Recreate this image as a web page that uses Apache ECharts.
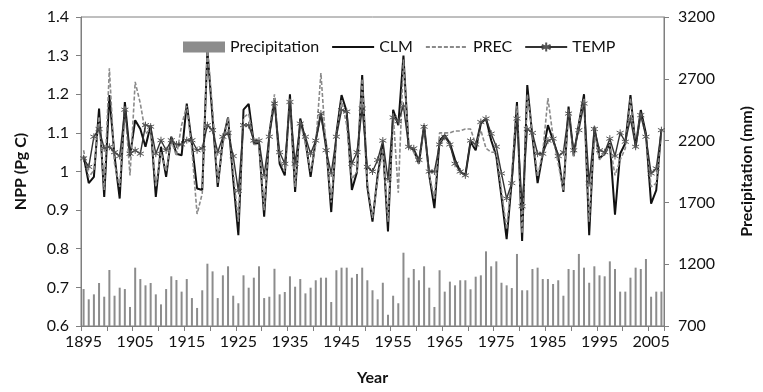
<!DOCTYPE html>
<html>
<head>
<meta charset="utf-8">
<script src="https://cdn.jsdelivr.net/npm/echarts@6/dist/echarts.min.js"></script>
<style>
html,body{margin:0;padding:0;background:#fff;}
#chart{width:763px;height:392px;}
</style>
</head>
<body>
<div id="chart"></div>
<script>
// Years 1895-2007
var years = [];
for (var y = 1895; y <= 2007; y++) years.push(String(y));

// Annual precipitation (mm), right axis
var precipitation = [
  999, 916, 956, 1048, 937, 1153, 945, 1010, 999, 854,
  1172, 1080, 1029, 1048, 956, 875, 999, 1102, 1072, 978,
  1080, 926, 846, 989, 1204, 1142, 926, 1110, 1183, 945,
  884, 1110, 1010, 1091, 1183, 926, 937, 1163, 956, 975,
  1102, 1018, 1080, 964, 1010, 1070, 1091, 1091, 894, 1151,
  1172, 1172, 1091, 1121, 1172, 1070, 989, 916, 1050, 791,
  945, 884, 1293, 1091, 1161, 1070, 1183, 1010, 854, 1151,
  978, 1059, 1029, 1070, 1070, 997, 1099, 1110, 1304, 1183,
  1223, 1050, 1029, 1007, 1283, 989, 989, 1161, 1172, 1080,
  1080, 1040, 1070, 945, 1161, 1153, 1283, 1172, 1050, 1183,
  1110, 1102, 1223, 1161, 978, 978, 1091, 1172, 1161, 1242,
  937, 978, 978
];

// NPP (Pg C), left axis
var clm = [
  1.04, 0.97, 0.986, 1.163, 0.934, 1.198, 1.04, 0.93, 1.18, 1.04,
  1.133, 1.11, 1.064, 1.12, 0.934, 1.064, 0.986, 1.09, 1.046, 1.042,
  1.176, 1.07, 0.956, 0.952, 1.314, 1.14, 0.96, 1.081, 1.14, 0.98,
  0.835, 1.16, 1.175, 1.073, 1.073, 0.883, 1.098, 1.19, 1.02, 0.99,
  1.2, 0.947, 1.137, 1.081, 0.986, 1.081, 1.15, 1.073, 0.895, 1.098,
  1.198, 1.155, 0.952, 0.999, 1.25, 0.96, 0.87, 0.99, 1.07, 0.845,
  1.16, 1.12, 1.30, 1.064, 1.055, 1.02, 1.12, 0.99, 0.905, 1.081,
  1.094, 1.073, 1.03, 1.0, 0.99, 1.077, 1.055, 1.124, 1.137, 1.081,
  1.04, 0.934, 0.825, 0.977, 1.18, 0.82, 1.224, 1.09, 0.97, 1.046,
  1.12, 1.081, 1.04, 0.947, 1.168, 1.04, 1.124, 1.2, 0.835, 1.116,
  1.034, 1.046, 1.073, 0.888, 1.046, 1.073, 1.198, 1.064, 1.159, 1.098,
  0.917, 0.952, 1.11
];

var prec = [
  1.055, 0.986, 1.003, 1.142, 0.952, 1.267, 1.02, 0.96, 1.17, 0.99,
  1.232, 1.176, 1.098, 1.11, 0.96, 1.05, 1.0, 1.08, 1.04, 1.12,
  1.17, 1.055, 0.89, 0.943, 1.32, 1.16, 0.97, 1.07, 1.14, 1.0,
  0.87, 1.14, 1.15, 1.07, 1.07, 0.9, 1.1, 1.2, 1.03, 1.0,
  1.19, 0.96, 1.13, 1.07, 1.0, 1.07, 1.255, 1.06, 0.92, 1.09,
  1.185, 1.12, 0.98, 1.0, 1.24, 0.97, 0.88, 0.98, 1.06, 0.87,
  1.15, 0.945, 1.29, 1.07, 1.05, 1.02, 1.12, 0.99, 0.93, 1.10,
  1.10, 1.10, 1.105, 1.105, 1.11, 1.11, 1.07, 1.107, 1.06, 1.05,
  1.05, 0.95, 0.85, 0.99, 1.17, 0.84, 1.2, 1.1, 0.986, 1.05,
  1.19, 1.09, 1.02, 0.95, 1.16, 1.04, 1.12, 1.19, 0.87, 1.11,
  1.03, 1.05, 1.07, 0.99, 1.03, 1.06, 1.19, 1.06, 1.15, 1.09,
  0.96, 0.97, 1.11
];

var temp = [
  1.034, 1.012, 1.09, 1.11, 1.06, 1.064, 1.05, 1.04, 1.16, 1.046,
  1.055, 1.046, 1.12, 1.116, 1.046, 1.081, 1.055, 1.081, 1.07, 1.07,
  1.081, 1.081, 1.055, 1.06, 1.12, 1.107, 1.05, 1.09, 1.1, 1.04,
  0.95, 1.12, 1.12, 1.08, 1.08, 0.99, 1.09, 1.176, 1.05, 1.02,
  1.18, 1.02, 1.124, 1.09, 1.046, 1.08, 1.15, 1.055, 0.995, 1.09,
  1.159, 1.155, 1.02, 1.05, 1.163, 1.012, 1.0, 1.03, 1.08, 0.98,
  1.14, 1.13, 1.17, 1.064, 1.06, 1.03, 1.116, 1.0, 1.0, 1.07,
  1.09, 1.07, 1.02, 1.0, 0.99, 1.08, 1.07, 1.128, 1.137, 1.098,
  1.064, 0.995, 0.93, 0.97, 1.137, 0.91, 1.11, 1.1, 1.046, 1.046,
  1.08, 1.085, 1.04, 1.05, 1.15, 1.055, 1.107, 1.176, 0.97, 1.11,
  1.055, 1.05, 1.085, 1.04, 1.1, 1.077, 1.137, 1.064, 1.146, 1.09,
  0.995, 1.008, 1.107
];

var FONT = 'Lato, "Open Sans", sans-serif';
var AX = '#7f7f7f';
var starPath = 'path://M5,0L5,10M0.67,2.5L9.33,7.5M0.67,7.5L9.33,2.5';

var chart = echarts.init(document.getElementById('chart'), null, {renderer: 'canvas'});
chart.setOption({
  animation: false,
  backgroundColor: '#fff',
  textStyle: {fontFamily: FONT},
  grid: {left: 81, right: 90, top: 17, bottom: 66, show: true, borderColor: AX, borderWidth: 1},
  legend: {
    top: 34, left: 178,
    itemWidth: 42, itemHeight: 11, itemGap: 12,
    textStyle: {fontFamily: FONT, fontSize: 16, color: '#111'},
    data: [
      {name: 'Precipitation', icon: 'rect'},
      {name: 'CLM', itemStyle: {opacity: 0}},
      {name: 'PREC', itemStyle: {opacity: 0}},
      {name: 'TEMP'}
    ]
  },
  xAxis: {
    type: 'category',
    data: years,
    boundaryGap: true,
    name: 'Year',
    nameLocation: 'middle',
    nameGap: 44,
    nameTextStyle: {fontFamily: FONT, fontSize: 16, fontWeight: 'bold', color: '#111'},
    axisLine: {lineStyle: {color: AX, width: 1}},
    axisTick: {show: true, interval: 4, length: 5, lineStyle: {color: AX}},
    axisLabel: {interval: 9, fontFamily: FONT, fontSize: 16, color: '#111', margin: 8},
    splitLine: {show: false}
  },
  yAxis: [
    {
      type: 'value', min: 0.6, max: 1.4, interval: 0.1,
      name: 'NPP (Pg C)', nameLocation: 'middle', nameGap: 52, nameRotate: 90,
      nameTextStyle: {fontFamily: FONT, fontSize: 16, fontWeight: 'bold', color: '#111'},
      axisLine: {show: true, lineStyle: {color: AX}},
      axisTick: {show: true, length: 5, lineStyle: {color: AX}},
      axisLabel: {fontFamily: FONT, fontSize: 16, color: '#111', margin: 12,
        formatter: function (v) { return String(+v.toFixed(1)); }},
      splitLine: {show: false}
    },
    {
      type: 'value', min: 700, max: 3200, interval: 500, position: 'right',
      name: 'Precipitation (mm)', nameLocation: 'middle', nameGap: 75, nameRotate: 90,
      nameTextStyle: {fontFamily: FONT, fontSize: 16, fontWeight: 'bold', color: '#111'},
      axisLine: {show: true, lineStyle: {color: AX}},
      axisTick: {show: true, length: 5, lineStyle: {color: AX}},
      axisLabel: {fontFamily: FONT, fontSize: 16, color: '#111', margin: 14,
        formatter: function (v) { return String(v); }},
      splitLine: {show: false}
    }
  ],
  series: [
    {
      name: 'Precipitation', type: 'bar', yAxisIndex: 1, data: precipitation,
      barWidth: 2, itemStyle: {color: '#8c8c8c'}
    },
    {
      name: 'CLM', type: 'line', yAxisIndex: 0, data: clm,
      symbol: 'none', lineStyle: {color: '#111', width: 2}, itemStyle: {color: '#111'}
    },
    {
      name: 'PREC', type: 'line', yAxisIndex: 0, data: prec,
      symbol: 'none', lineStyle: {color: '#8a8a8a', width: 1.6, type: [4, 2]}, itemStyle: {color: '#8a8a8a'}
    },
    {
      name: 'TEMP', type: 'line', yAxisIndex: 0, data: temp,
      symbol: starPath, symbolSize: 7, showAllSymbol: true,
      lineStyle: {color: '#333', width: 1.4},
      itemStyle: {color: '#555', borderColor: '#555', borderWidth: 1}
    }
  ]
});
</script>
</body>
</html>
